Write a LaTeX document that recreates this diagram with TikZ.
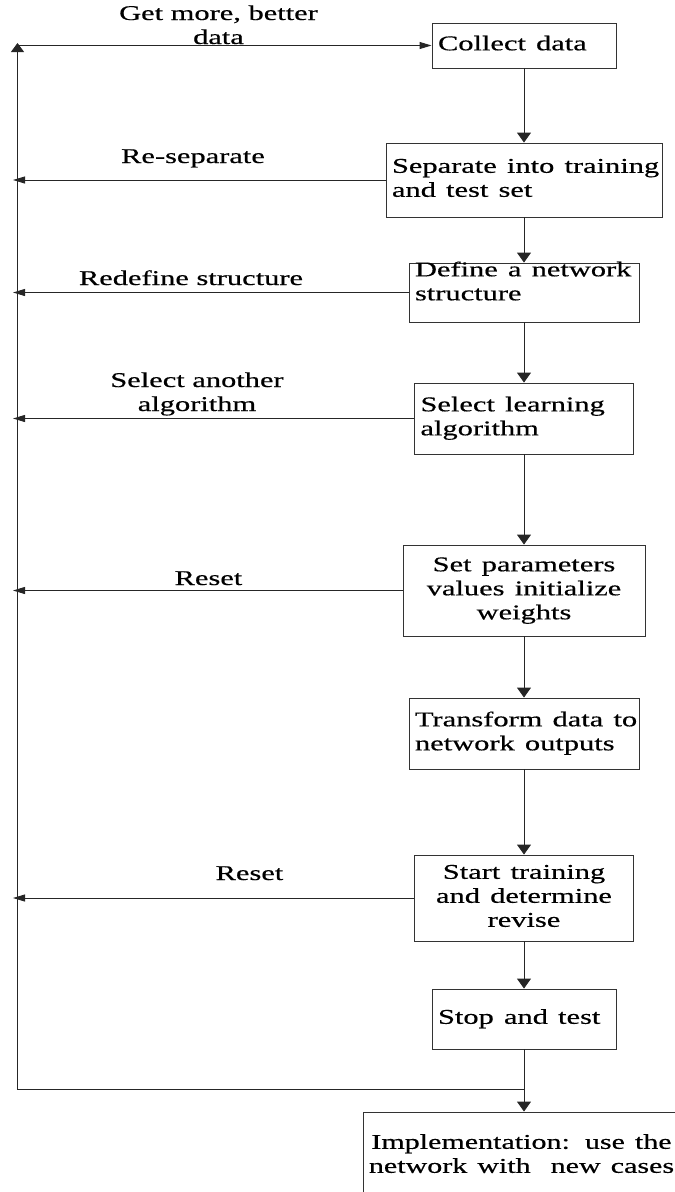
\documentclass[tikz,border=0pt]{standalone}
\usepackage{fontspec}
\setmainfont{Liberation Serif}[FakeBold=0.4]
\usepackage{graphicx}
\usetikzlibrary{arrows.meta}

% horizontally widened text blocks (left / centred lines)
\newcommand{\txl}[1]{\scalebox{1.45}[1]{\begin{tabular}[b]{@{}l@{}}#1\end{tabular}}}
\newcommand{\txc}[1]{\scalebox{1.45}[1]{\begin{tabular}[b]{@{}c@{}}#1\end{tabular}}}
\newcommand{\txn}[1]{\scalebox{1.43}[1]{\begin{tabular}[b]{@{}c@{}}#1\end{tabular}}}

\begin{document}
\begin{tikzpicture}[x=1pt, y=-1pt,
  font=\fontsize{21}{24}\selectfont,
  flowbox/.style={draw=black!80, line width=0.9pt, inner xsep=6pt, inner ysep=0pt},
  leftbox/.style={flowbox, align=left},
  midbox/.style={flowbox, align=center},
  lbl/.style={inner sep=0pt, anchor=base},
  link/.style={draw=black!85, line width=0.9pt},
  downarr/.style={link, -{Triangle[length=10pt, width=14pt]}},
  sidearr/.style={link, -{Triangle[length=12pt, width=7pt]}},
  uparr/.style={link, -{Triangle[length=9pt, width=13pt]}}]

\useasboundingbox (0,0) rectangle (675,1192);
\clip (0,0) rectangle (675,1192);

% process boxes
\node[leftbox, text width=172pt, minimum height=45pt] (col) at (524,45.5)
  {\txl{Collect data}};
\node[leftbox, text width=264pt, minimum height=74pt] (sep) at (524,180)
  {\txl{Separate into training\\and test set}};
\node[leftbox, text width=218pt, minimum height=59pt] (def) at (524,292.5)
  {\raisebox{9pt}[\height][\depth]{\txl{Define a network\\structure}}};
\node[leftbox, text width=207pt, minimum height=71pt] (sel) at (524,418.5)
  {\txl{Select learning\\algorithm}};
\node[midbox, text width=230pt, minimum height=91pt] (par) at (524,590.5)
  {\txc{Set parameters\\values initialize\\weights}};
\node[leftbox, text width=218pt, minimum height=71pt] (tra) at (524,733.5)
  {\txl{Transform data to\\network outputs}};
\node[midbox, text width=207pt, minimum height=86pt] (trn) at (524,898)
  {\txc{Start training\\and determine\\revise}};
\node[leftbox, text width=172pt, minimum height=60pt] (stp) at (524,1019)
  {\txl{Stop and test}};
\node[midbox, text width=308pt, minimum height=88pt] (imp) at (523,1156)
  {\hspace*{-3pt}\txn{Implementation: use the\\network with\ \ new cases}};

% feedback labels
\node[lbl] (lget) at (218.5,44) {\txc{Get more, better\\data}};
\node[lbl] (lres) at (193,163) {\txc{Re-separate}};
\node[lbl] (lred) at (191,285) {\txc{Redefine structure}};
\node[lbl] (lsel) at (197,411) {\txc{Select another\\algorithm}};
\node[lbl] (lrs1) at (208.5,585) {\txc{Reset}};
\node[lbl] (lrs2) at (249.5,880) {\txc{Reset}};

% main sequence
\draw[downarr] (col.south) -- (sep.north);
\draw[downarr] (sep.south) -- (def.north);
\draw[downarr] (def.south) -- (sel.north);
\draw[downarr] (sel.south) -- (par.north);
\draw[downarr] (par.south) -- (tra.north);
\draw[downarr] (tra.south) -- (trn.north);
\draw[downarr] (trn.south) -- (stp.north);
\draw[downarr] (stp.south) -- (stp.south |- imp.north);

% feedback loop
\coordinate (tipx) at (13,0);
\coordinate (loopbot) at (17.5,1089.5);
\coordinate (looptop) at (17.5,43);
\draw[uparr] (stp.south |- loopbot) -- (loopbot) -- (looptop);
\draw[sidearr] (looptop |- col.west) -- (col.west);
\draw[sidearr] (sep.west) -- (sep.west -| tipx);
\draw[sidearr] (def.west) -- (def.west -| tipx);
\draw[sidearr] (sel.west) -- (sel.west -| tipx);
\draw[sidearr] (par.west) -- (par.west -| tipx);
\draw[sidearr] (trn.west) -- (trn.west -| tipx);
\end{tikzpicture}
\end{document}
